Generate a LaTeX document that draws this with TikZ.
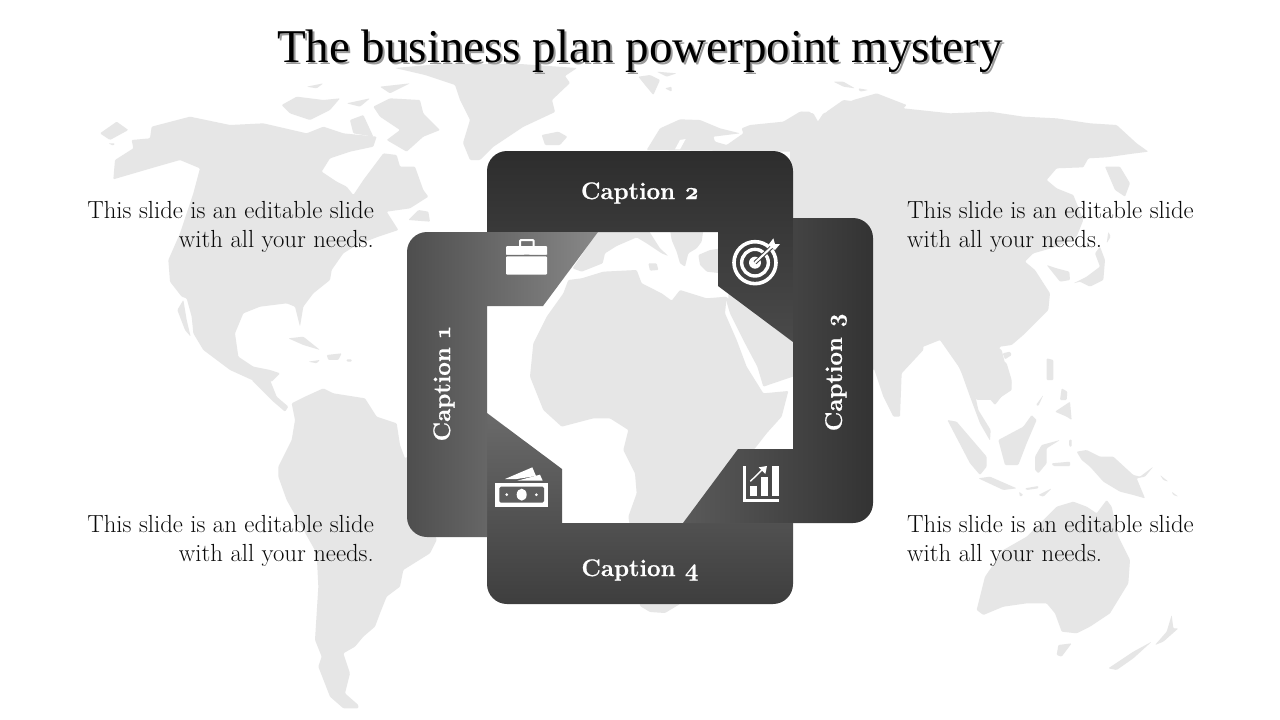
\documentclass[tikz,border=0pt]{standalone}
\usepackage{fontspec}
\newfontfamily\titlefont{Liberation Serif}
\newfontfamily\capfont[Numbers=OldStyle,BoldFeatures={FakeBold=0.7}]{Latin Modern Roman}
\definecolor{land}{HTML}{E6E6E6}
\definecolor{shadowb}{HTML}{9A9A9A}
\definecolor{bodyink}{HTML}{0A0A0A}
\definecolor{oneL}{HTML}{4E4E4E}
\definecolor{oneR}{HTML}{888888}
\definecolor{twoT}{HTML}{2D2D2D}
\definecolor{twoB}{HTML}{4A4A4A}
\definecolor{threeL}{HTML}{5A5A5A}
\definecolor{threeR}{HTML}{333333}
\definecolor{fourT}{HTML}{6A6A6A}
\definecolor{fourB}{HTML}{3E3E3E}
\tikzset{
  landmass/.style={fill=land,draw=none,rounded corners=1pt},
  zoomed/.style={shift={#1},scale=0.33333},
  body/.style={font=\fontsize{24.75}{29}\selectfont,text=bodyink,inner sep=0pt},
  caption/.style={font=\capfont\fontsize{24}{28}\selectfont\bfseries,text=white,inner sep=0pt},
  titletext/.style={font=\titlefont\fontsize{47}{52}\selectfont,inner sep=0pt},
  icon/.style={fill=white,draw=none}
}
\newcommand{\shadowedtitle}[1]{\leavevmode\rlap{\hspace{2pt}\raisebox{-2pt}{\textcolor{shadowb}{#1}}}\textcolor{black}{#1}}
\begin{document}
\begin{tikzpicture}[x=1pt,y=-1pt]
\useasboundingbox (0,0) rectangle (1280,720);
\fill[white] (0,0) rectangle (1280,720);
% ---------- map: Americas
\begin{scope}[zoomed={(90,80)}]
\fill[landmass] (70,298)--(75,240)--(130,205)--(125,180)--(180,175)--(185,140)--(300,110)--(420,135)--(520,130)--(650,160)--(700,140)--(760,160)--(860,170)--(850,200)--(780,215)--(720,235)--(695,275)--(740,305)--(770,320)--(790,345)--(820,300)--(850,260)--(880,220)--(920,225)--(930,260)--(975,260)--(1000,330)--(1015,350)--(960,385)--(890,395)--(925,450)--(865,470)--(800,495)--(760,520)--(725,570)--(720,600)--(670,640)--(640,680)--(630,740)--(615,680)--(590,670)--(510,680)--(460,700)--(435,760)--(445,830)--(490,860)--(540,870)--(570,880)--(545,905)--(486,900)--(420,870)--(340,810)--(310,760)--(305,710)--(290,655)--(275,650)--(240,605)--(235,540)--(270,460)--(310,340)--(330,265)--(270,240)--(200,260)--cycle;
\fill[landmass] (262,690)--(280,660)--(290,720)--(302,770)--(285,750)--cycle;
\fill[landmass] (30,160)--(80,125)--(115,150)--(60,180)--cycle;
\fill[landmass] (55,190)--(75,190)--(70,197)--cycle;
\fill[landmass] (575,75)--(620,50)--(700,60)--(750,55)--(720,90)--(660,120)--(600,100)--cycle;
\fill[landmass] (850,80)--(900,55)--(990,60)--(1000,100)--(1050,150)--(1000,170)--(950,215)--(890,180)--(930,150)--(870,110)--cycle;
\fill[landmass] (770,70)--(840,55)--(810,80)--cycle;
\fill[landmass] (650,20)--(700,10)--(680,25)--cycle;
\fill[landmass] (870,20)--(960,10)--(900,40)--cycle;
\fill[landmass] (780,120)--(820,105)--(850,170)--(790,160)--cycle;
\fill[landmass] (955,420)--(985,390)--(1015,395)--(1020,425)--cycle;
\fill[landmass] (595,775)--(640,770)--(690,810)--(640,795)--cycle;
\fill[landmass] (710,825)--(755,820)--(745,840)--(715,840)--cycle;
\fill[landmass] (655,845)--(690,840)--(680,850)--cycle;
\fill[landmass] (770,838)--(785,838)--(785,845)--(770,845)--cycle;
\end{scope}
\fill[landmass] (455,85)--(425,75)--(395,68)--(440,64)--(520,64)--(577,68)--(565,76)--(570,83)--(552,100)--(555,112)--(523,127)--(493,147)--(480,160)--(470,160)--(463,143)--(470,120)--(460,100)--cycle;
\begin{scope}[zoomed={(240,380)}]
\fill[landmass] (35,0)--(90,0)--(110,50)--(145,80)--(135,95)--(100,65)--cycle;
\fill[landmass] (155,70)--(195,50)--(250,25)--(280,40)--(375,55)--(410,110)--(470,130)--(480,195)--(495,235)--(520,220)--(590,480)--(570,520)--(490,570)--(480,620)--(440,650)--(420,700)--(405,740)--(370,770)--(345,800)--(310,820)--(330,880)--(315,940)--(355,975)--(355,985)--(310,985)--(270,950)--(235,860)--(245,830)--(225,780)--(235,620)--(230,520)--(140,360)--(115,290)--(115,260)--(155,180)--(165,120)--cycle;
\end{scope}
% ---------- map: Eurasia north
\begin{scope}[zoomed={(480,70)}]
\fill[landmass] (500,240)--(540,175)--(600,148)--(660,150)--(720,175)--(780,190)--(700,200)--(705,215)--(740,225)--(790,190)--(785,175)--(810,165)--(910,155)--(960,125)--(1000,130)--(1020,165)--(1040,125)--(1090,90)--(1170,100)--(1200,110)--(1200,480)--(940,480)--(940,245)--cycle;
\fill[white] (585,238)--(600,210)--(617,207)--(600,238)--cycle;
\fill[landmass] (185,195)--(235,185)--(262,200)--(240,225)--(195,225)--cycle;
\fill[landmass] (475,20)--(510,15)--(540,30)--(520,75)--(495,45)--cycle;
\fill[landmass] (530,5)--(590,10)--(560,20)--cycle;
\fill[landmass] (555,55)--(575,50)--(575,65)--cycle;
\fill[landmass] (1060,35)--(1090,35)--(1125,55)--(1090,50)--cycle;
\fill[landmass] (1135,55)--(1165,60)--(1140,65)--cycle;
\end{scope}
% ---------- map: Asia
\begin{scope}[zoomed={(790,80)}]
\fill[landmass] (0,130)--(30,95)--(60,95)--(80,130)--(100,100)--(130,90)--(190,60)--(260,40)--(350,75)--(340,85)--(480,100)--(600,95)--(700,110)--(800,115)--(900,130)--(980,135)--(1040,190)--(1075,215)--(1020,222)--(950,232)--(895,235)--(880,262)--(800,265)--(770,300)--(800,325)--(850,345)--(880,420)--(860,470)--(800,500)--(730,520)--(705,545)--(735,570)--(780,640)--(775,690)--(700,765)--(665,795)--(630,800)--(622,830)--(650,850)--(665,900)--(665,930)--(620,960)--(560,960)--(520,880)--(450,780)--(400,800)--(250,870)--(0,800)--cycle;
\fill[landmass] (945,260)--(990,260)--(1020,310)--(1005,350)--(975,330)--cycle;
\fill[landmass] (770,555)--(800,565)--(838,575)--(840,600)--(810,605)--(790,580)--cycle;
\fill[landmass] (850,610)--(890,590)--(930,560)--(915,520)--(930,500)--(945,540)--(940,600)--(900,620)--(870,605)--cycle;
\fill[landmass] (955,455)--(962,470)--(950,490)--cycle;
\fill[landmass] (638,820)--(660,815)--(665,825)--(645,838)--cycle;
\end{scope}
\begin{scope}[zoomed={(870,350)}]
\fill[landmass] (160,0)--(95,70)--(90,200)--(70,200)--(40,140)--(10,50)--(-40,-30)--(160,-30)--cycle;
\fill[landmass] (245,0)--(275,70)--(300,140)--(330,220)--(360,272)--(362,240)--(325,180)--(310,110)--(340,125)--(375,165)--(425,100)--(405,40)--(395,0)--(300,-60)--cycle;
\fill[landmass] (530,25)--(550,30)--(550,90)--(530,90)--cycle;
\fill[landmass] (555,185)--(600,155)--(605,210)--(590,200)--cycle;
\fill[landmass] (575,115)--(592,125)--(590,150)--(570,150)--cycle;
\fill[landmass] (498,165)--(520,135)--(505,168)--cycle;
\fill[landmass] (232,210)--(260,215)--(350,320)--(350,350)--(330,375)--(300,340)--cycle;
\fill[landmass] (325,385)--(360,380)--(440,415)--(400,420)--cycle;
\fill[landmass] (465,415)--(505,408)--(505,415)--(470,420)--cycle;
\fill[landmass] (505,435)--(545,415)--(520,440)--cycle;
\fill[landmass] (447,425)--(460,435)--(450,440)--cycle;
\fill[landmass] (385,270)--(460,230)--(485,195)--(500,210)--(470,280)--(445,345)--(405,345)--cycle;
\fill[landmass] (495,320)--(515,285)--(570,270)--(530,295)--(530,340)--(505,370)--(495,360)--cycle;
\fill[landmass] (597,270)--(605,268)--(605,290)--(598,290)--cycle;
\fill[landmass] (545,340)--(600,335)--(600,348)--(550,348)--cycle;
\fill[landmass] (620,305)--(650,300)--(690,320)--(730,320)--(790,375)--(810,380)--(850,350)--(825,380)--(800,385)--(825,445)--(790,435)--(750,425)--(700,395)--(660,350)--(635,330)--cycle;
\fill[landmass] (870,375)--(895,395)--(880,390)--cycle;
\fill[landmass] (905,425)--(925,440)--(910,435)--cycle;
\fill[landmass] (320,780)--(345,680)--(400,600)--(470,560)--(520,510)--(560,470)--(610,455)--(650,470)--(680,490)--(710,450)--(725,470)--(745,560)--(780,630)--(775,700)--(720,790)--(660,830)--(620,850)--(575,845)--(555,790)--(530,760)--(470,760)--(400,770)--(340,795)--cycle;
\fill[landmass] (565,885)--(605,880)--(575,920)--(560,915)--cycle;
\fill[landmass] (715,955)--(790,905)--(845,875)--(790,925)--(740,960)--cycle;
\fill[landmass] (855,885)--(890,845)--(905,795)--(910,835)--(925,835)--(880,875)--cycle;
\end{scope}
% ---------- map: Europe, Africa, Arabia in the window
\begin{scope}[zoomed={(480,230)}]
\fill[landmass] (355,0)--(278,115)--(305,125)--(368,100)--(375,70)--(410,48)--(470,22)--(500,40)--(545,70)--(565,78)--(540,55)--(505,0)--cycle;
\fill[landmass] (505,100)--(530,100)--(535,120)--(510,122)--cycle;
\fill[landmass] (570,0)--(670,0)--(665,35)--(650,55)--(625,70)--(615,110)--(600,100)--(590,65)--(575,30)--cycle;
\fill[landmass] (655,75)--(690,60)--(725,55)--(725,130)--(680,125)--(660,105)--cycle;
\fill[landmass] (265,150)--(305,145)--(370,125)--(470,120)--(485,160)--(545,190)--(575,212)--(600,180)--(680,205)--(740,200)--(735,250)--(770,330)--(800,410)--(850,490)--(925,483)--(905,560)--(860,610)--(825,655)--(770,700)--(700,890)--(450,890)--(445,860)--(470,790)--(465,730)--(430,660)--(445,600)--(390,565)--(340,565)--(245,590)--(190,540)--(150,440)--(160,340)--(200,260)--(250,190)--cycle;
\fill[landmass] (745,205)--(950,340)--(950,200)--(745,190)--cycle;
\fill[landmass] (735,200)--(750,250)--(795,340)--(832,410)--(850,470)--(950,436)--(950,300)--cycle;
\end{scope}
\fill[landmass] (630,520)--(640,606)--(650,612)--(665,613)--(680,604)--(720,520)--cycle;
% ---------- four frames
\shade[top color=twoT,bottom color=twoB,rounded corners=20pt]
  (487,240) -- (487,151) -- (793,151) [sharp corners] -- (793,342) -- (718,286) -- (718,232) -- (487,232) -- cycle;
\shade[left color=threeL,right color=threeR,rounded corners=20pt]
  (793,218) -- (873,218) -- (873,523) [sharp corners] -- (683,523) -- (738,449) -- (793,449) -- cycle;
\shade[top color=fourT,bottom color=fourB,rounded corners=20pt]
  (793,523) -- (793,604) -- (487,604) [sharp corners] -- (487,413) -- (562,469) -- (562,523) -- cycle;
\shade[left color=oneL,right color=oneR,rounded corners=20pt]
  (487,537) -- (407,537) -- (407,232) [sharp corners] -- (598,232) -- (543,306) -- (487,306) -- cycle;
% ---------- briefcase
\begin{scope}[zoomed={(400,140)}]
\draw[white,line width=2pt,rounded corners=1pt] (360,318) -- (360,300) -- (401,300) -- (401,318);
\fill[icon,rounded corners=1pt] (318,318) rectangle (441,344);
\fill[icon,rounded corners=1pt] (318,349) rectangle (441,404);
\fill[white] (318,340) rectangle (372,344) (388,340) rectangle (441,344);
\fill[white] (372,366) rectangle (388,372);
\end{scope}
% ---------- target
\begin{scope}[zoomed={(640,140)}]
\draw[white,line width=3.6pt] (345,368) circle (63);
\draw[white,line width=3.4pt] (345,368) circle (40);
\fill[white] (345,368) circle (18);
\draw[black!72,line width=4pt] (345,368) -- (405,312);
\draw[white,line width=2pt] (345,368) -- (395,321);
\fill[icon] (385,315) -- (400,295) -- (405,312) -- (420,312) -- (405,330) -- cycle;
\end{scope}
% ---------- bank notes
\begin{scope}[zoomed={(400,380)}]
\fill[icon] (285,308) rectangle (444,380);
\fill[black!63,rounded corners=1.5pt] (298,320) rectangle (432,368);
\fill[white] (365,344) ellipse (15 and 18);
\fill[white] (320,344) circle (4.5);
\fill[white] (409,344) circle (4.5);
\fill[icon] (315,297) -- (397,262) -- (408,288) -- (350,297) -- cycle;
\fill[icon] (352,302) -- (420,284) -- (428,302) -- cycle;
\end{scope}
% ---------- chart
\begin{scope}[zoomed={(640,380)}]
\fill[icon] (310,258) rectangle (318,366);
\fill[icon] (310,358) rectangle (418,366);
\fill[icon] (330,318) rectangle (352,348);
\fill[icon] (362,290) rectangle (385,348);
\fill[icon] (395,258) rectangle (418,348);
\draw[white,line width=1.4pt] (331,304) -- (372,264);
\fill[icon] (381,258) -- (356,262) -- (376,282) -- cycle;
\end{scope}
% ---------- texts
\node[titletext] (titlemain) at (640,52.5) {\shadowedtitle{The business plan powerpoint mystery}};
\node[body,anchor=east,align=right] (textnw) at (374,227) {This slide is an editable slide\\with all your needs.};
\node[body,anchor=west,align=left] (textne) at (907,227) {This slide is an editable slide\\with all your needs.};
\node[body,anchor=east,align=right] (textsw) at (374,541) {This slide is an editable slide\\with all your needs.};
\node[body,anchor=west,align=left] (textse) at (907,541) {This slide is an editable slide\\with all your needs.};
\node[caption] (capone) at (444,384) [rotate=90] {Caption 1};
\node[caption] (captwo) at (640,193) {Caption 2};
\node[caption] (capthree) at (836,372) [rotate=90] {Caption 3};
\node[caption] (capfour) at (640,570) {Caption 4};
\end{tikzpicture}
\end{document}
